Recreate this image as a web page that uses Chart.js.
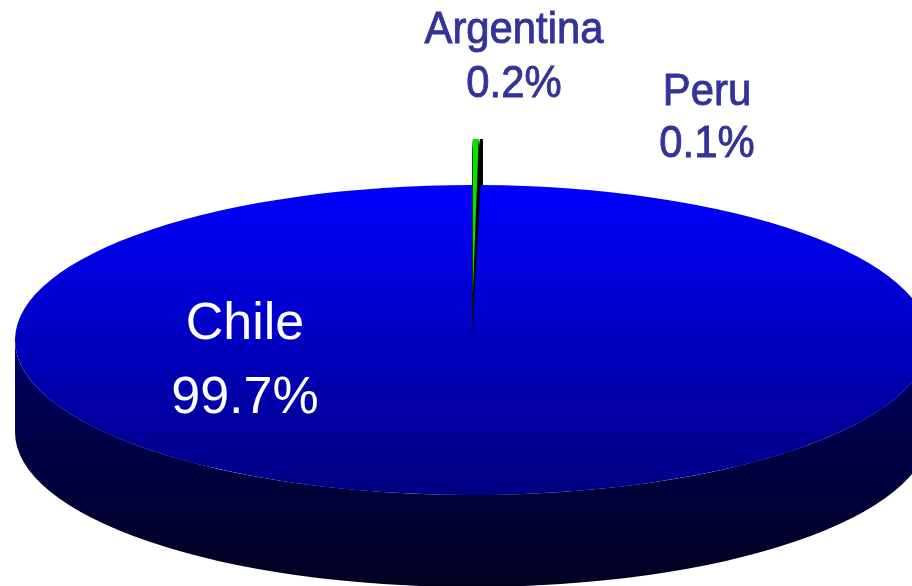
<!DOCTYPE html>
<html>
<head>
<meta charset="utf-8">
<script src="https://cdn.jsdelivr.net/npm/chart.js@4/dist/chart.umd.min.js"></script>
<style>
  html, body { margin: 0; padding: 0; background: #ffffff; }
  #wrap { width: 912px; height: 586px; position: relative; }
</style>
</head>
<body>
<div id="wrap"><canvas id="chart" width="912" height="586"></canvas></div>
<script>
// Production share by country (%)
const countries = ['Chile', 'Argentina', 'Peru'];
const shares = [99.7, 0.2, 0.1];
const sliceColors = ['#0000ff', '#00e600', '#000000'];
const wallColors = ['#000060', '#141400', '#000000'];
const pullOut = [0, 73, 73];

// Flat pie radius and the squash that turns it into a tilted disc
const RADIUS = 246;
const TILT_X = 457 / RADIUS;
const TILT_Y = 155 / RADIUS;
const DEPTH = 92;

function tilt(ctx, cx, cy) {
  ctx.translate(cx, cy);
  ctx.scale(TILT_X, TILT_Y);
  ctx.translate(-cx, -cy);
}

// Draw an arc element with a substitute fill colour
function paintAs(arc, ctx, color) {
  const opts = arc.options;
  arc.options = Object.assign({}, opts, { backgroundColor: color, borderWidth: 0 });
  arc.draw(ctx);
  arc.options = opts;
}

// Front-facing outer wall of a slice that sits in place
function drawFrontWall(ctx, arc, fill) {
  const { x, y, outerRadius, startAngle, endAngle } = arc.getProps(['x', 'y', 'outerRadius', 'startAngle', 'endAngle']);
  const rx = outerRadius * TILT_X, ry = outerRadius * TILT_Y;
  const ranges = [];
  for (let k = -1; k <= 1; k++) {
    const a0 = Math.max(startAngle, k * 2 * Math.PI);
    const a1 = Math.min(endAngle, k * 2 * Math.PI + Math.PI);
    if (a1 > a0) ranges.push([a0 - k * 2 * Math.PI, a1 - k * 2 * Math.PI]);
  }
  ranges.forEach(([a0, a1]) => {
    ctx.beginPath();
    ctx.ellipse(x, y, rx, ry, 0, a0, a1, false);
    ctx.lineTo(x + rx * Math.cos(a1), y + ry * Math.sin(a1) + DEPTH);
    ctx.ellipse(x, y + DEPTH, rx, ry, 0, a1, a0, true);
    ctx.closePath();
    ctx.fillStyle = fill;
    ctx.fill();
  });
}

const disc3d = {
  id: 'disc3d',
  beforeDatasetsDraw(chart) {
    const ctx = chart.ctx;
    const meta = chart.getDatasetMeta(0);
    const cx = meta.data[0].x, cy = meta.data[0].y;

    // pulled-out slices sit behind the disc: body first, then top face
    meta.data.forEach((arc, i) => {
      if (!pullOut[i]) return;
      const mid = (arc.startAngle + arc.endAngle) / 2;
      const dx = Math.cos(mid) * pullOut[i], dy = Math.sin(mid) * pullOut[i];
      for (let d = DEPTH; d > 0; d--) {
        ctx.save();
        ctx.translate(0, d);
        tilt(ctx, cx, cy);
        ctx.translate(dx, dy);
        paintAs(arc, ctx, wallColors[i]);
        ctx.restore();
      }
      ctx.save();
      tilt(ctx, cx, cy);
      ctx.translate(dx, dy);
      arc.draw(ctx);
      ctx.restore();
    });

    // side wall of the main disc
    const wall = ctx.createLinearGradient(0, cy, 0, cy + RADIUS * TILT_Y + DEPTH);
    wall.addColorStop(0, '#000066');
    wall.addColorStop(1, '#00001e');
    meta.data.forEach((arc, i) => {
      if (pullOut[i]) return;
      drawFrontWall(ctx, arc, wall);
      ctx.save();
      tilt(ctx, cx, cy);
      arc.draw(ctx);
      ctx.restore();
    });
  },
  // every slice has already been painted above
  beforeDatasetDraw() {
    return false;
  },
  afterDraw(chart) {
    const ctx = chart.ctx;
    const labels = [
      { i: 0, x: 245, y: [339, 413], size: 52, sx: 1.0, stroke: 0, color: '#ffffff' },
      { i: 1, x: 514, y: [43, 97], size: 44, sx: 0.95, stroke: 0.9, color: '#333399' },
      { i: 2, x: 707, y: [105, 157], size: 44, sx: 0.95, stroke: 0.9, color: '#333399' }
    ];
    ctx.save();
    ctx.textAlign = 'center';
    ctx.textBaseline = 'alphabetic';
    labels.forEach(l => {
      ctx.font = `${l.size}px "Liberation Sans", Arial, sans-serif`;
      ctx.fillStyle = l.color;
      ctx.strokeStyle = l.color;
      ctx.lineWidth = l.stroke;
      const lines = [countries[l.i], shares[l.i].toFixed(1) + '%'];
      lines.forEach((t, k) => {
        ctx.save();
        ctx.translate(l.x, l.y[k]);
        ctx.scale(l.sx, 1);
        ctx.fillText(t, 0, 0);
        if (l.stroke) ctx.strokeText(t, 0, 0);
        ctx.restore();
      });
    });
    ctx.restore();
  }
};

const total = shares.reduce((a, b) => a + b, 0);

new Chart(document.getElementById('chart'), {
  type: 'pie',
  data: {
    labels: countries,
    datasets: [{
      data: shares,
      backgroundColor: (c) => {
        const i = c.dataIndex;
        if (i !== 0) return sliceColors[i];
        const a = c.chart.chartArea;
        if (!a) return sliceColors[0];
        const cy = (a.top + a.bottom) / 2;
        const g = c.chart.ctx.createLinearGradient(0, cy - RADIUS, 0, cy + RADIUS);
        g.addColorStop(0, '#0000ff');
        g.addColorStop(1, '#000082');
        return g;
      },
      borderWidth: 0,
      clip: false
    }]
  },
  options: {
    responsive: false,
    devicePixelRatio: 1,
    animation: false,
    events: [],
    radius: RADIUS,
    rotation: 360 * (total - shares[0]) / total,
    layout: { padding: { left: 32, top: 94, right: 0, bottom: 0 } },
    plugins: {
      legend: { display: false },
      tooltip: { enabled: false }
    }
  },
  plugins: [disc3d]
});
</script>
</body>
</html>
